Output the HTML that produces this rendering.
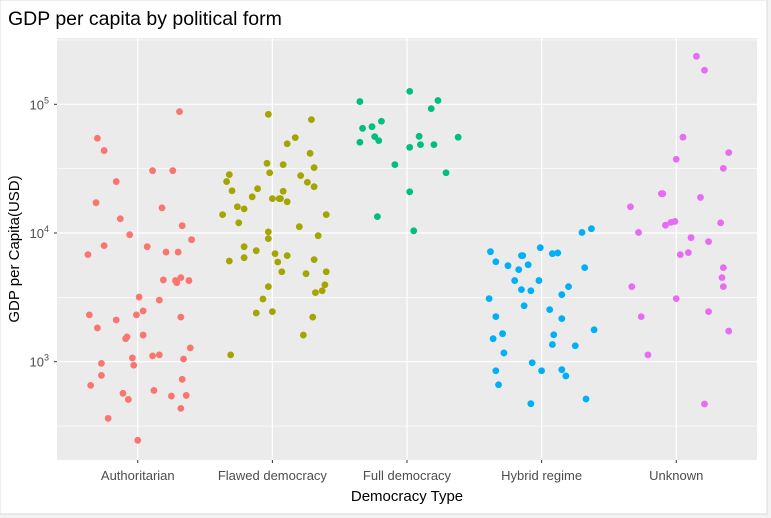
<!DOCTYPE html>
<html><head><meta charset="utf-8"><style>
body{margin:0;background:#fff;}
svg{display:block;font-family:"Liberation Sans",sans-serif;}
</style></head><body>
<svg id="chart" width="771" height="518" viewBox="0 0 771 518">
<rect x="0" y="0" width="771" height="518" fill="#f3f3f3"/>
<rect x="0" y="0" width="767" height="514" fill="#fff" stroke="#d9d9d9"/>
<text x="8" y="25" font-size="19.5" fill="#000">GDP per capita by political form</text>
<rect x="57" y="38" width="700" height="422" fill="#EBEBEB"/>
<g id="grid"></g>
<g id="axes"></g>
<g id="points"></g>
<text x="407" y="501" font-size="15" text-anchor="middle" fill="#000">Democracy Type</text>
<text transform="translate(19,249) rotate(-90)" font-size="15" text-anchor="middle" fill="#000">GDP per Capita(USD)</text>
</svg>
<script>
const categories = ["Authoritarian","Flawed democracy","Full democracy","Hybrid regime","Unknown"];
const yTickExponents = [3,4,5];
const authGdp = [87700,54500,43700,30500,30500,25100,17200,15700,12900,11400,9700,8870,7980,6790,7830,7110,7110,4320,4270,4500,4110,4270,3180,3010,2310,2480,2310,2110,2220,1830,1610,1510,1560,1280,1110,1130,1070,970,938,1050,783,730,655,568,509,598,541,547,434,363,245];
const authJitter = [0.31,-0.30,-0.25,0.11,0.26,-0.16,-0.31,0.18,-0.13,0.33,-0.06,0.40,-0.25,-0.37,0.07,0.21,0.30,0.19,0.28,0.32,0.29,0.38,0.01,0.16,-0.36,0.04,-0.01,-0.16,0.32,-0.30,0.04,-0.09,-0.08,0.39,0.11,0.16,-0.04,-0.27,-0.03,0.34,-0.27,0.33,-0.35,-0.11,-0.07,0.12,0.25,0.36,0.32,-0.22,0];
const flawedGdp = [83600,76000,55100,49400,41600,34800,34000,32200,29400,28400,27900,25100,24800,22900,22100,21300,21100,19100,18500,18500,18500,17500,16000,15400,13900,13900,12000,11200,10200,9530,9040,7830,7290,6910,6670,6060,6430,5950,6210,5000,4830,5000,3960,3830,3440,3560,3070,2390,2450,2220,1610,1130];
const flawedJitter = [-0.03,0.29,0.17,0.11,0.28,-0.04,0.08,0.31,-0.02,-0.32,0.21,-0.34,0.26,0.31,-0.11,-0.30,0.08,-0.15,0,0.05,0.06,0.11,-0.26,-0.21,-0.37,0.40,-0.25,0.20,-0.03,0.34,-0.03,-0.21,-0.12,0.02,0.11,-0.32,-0.21,0.04,0.31,0.07,0.25,0.40,0.39,-0.03,0.32,0.37,-0.07,-0.12,0,0.30,0.23,-0.31];
const fullGdp = [126000,105000,107000,92500,73800,65100,67000,56100,52200,50700,56400,48600,48600,46300,55500,34000,29400,20900,13400,10400];
const fullJitter = [0.02,-0.35,0.23,0.18,-0.19,-0.33,-0.26,-0.24,-0.21,-0.35,0.09,0.10,0.20,0.02,0.38,-0.09,0.29,0.02,-0.22,0.05];
const hybridGdp = [10800,10100,7690,7160,6670,6670,6910,7000,5980,5570,5670,5190,5380,4270,4270,3630,3560,3830,3320,3090,2720,2540,2240,2160,1770,1650,1620,1510,1360,1330,1170,982,851,867,851,775,662,513,472];
const hybridJitter = [0.37,0.30,-0.01,-0.38,-0.15,-0.14,0.08,0.12,-0.34,-0.25,-0.10,-0.17,0.32,-0.20,-0.02,-0.15,-0.08,0.20,0.15,-0.39,-0.13,0.06,-0.34,0.15,0.39,-0.29,0.09,-0.36,0.08,0.25,-0.28,-0.07,0,0.15,-0.34,0.18,-0.32,0.33,-0.08];
const unknownGdp = [236000,184000,55500,42100,37400,31800,20200,20200,18900,16000,12000,11500,12100,12300,10100,9200,8570,7040,6790,5380,4500,3830,3830,3090,2240,2450,1730,1130,469];
const unknownJitter = [0.15,0.21,0.05,0.39,0,0.35,-0.11,-0.10,0.18,-0.34,0.33,-0.08,-0.04,-0.01,-0.28,0.11,0.24,0.09,0.03,0.35,0.34,0.35,-0.33,0,-0.26,0.24,0.39,-0.21,0.21];
const seriesGdp = [authGdp, flawedGdp, fullGdp, hybridGdp, unknownGdp];
const seriesJitter = [authJitter, flawedJitter, fullJitter, hybridJitter, unknownJitter];
const colors = ["#F8766D","#A3A500","#00BF7D","#00B0F6","#E76BF3"];

const NS="http://www.w3.org/2000/svg";
const pL=57,pR=757,pT=38,pB=460;
const band=(pR-pL)/(categories.length+0.2);
function xScale(i){return pL+band*(0.6+i);}
const decade=128.7, y5=104.3;
function yScale(v){return y5+(5-Math.log10(v))*decade;}
function mk(tag,attrs,parent){const e=document.createElementNS(NS,tag);for(const k in attrs)e.setAttribute(k,attrs[k]);parent.appendChild(e);return e;}
const grid=document.getElementById('grid'),axes=document.getElementById('axes'),pts=document.getElementById('points');
// minor gridlines (half decades)
[2.5,3.5,4.5,5.5].forEach(e=>{const y=yScale(Math.pow(10,e));if(y>pT&&y<pB){
 const l=mk('line',{x1:pL,x2:pR,y1:y,y2:y,stroke:'#fff','stroke-width':0.6},grid);
 
 }});
yTickExponents.forEach(e=>{const y=yScale(Math.pow(10,e));
 const l=mk('line',{x1:pL,x2:pR,y1:y,y2:y,stroke:'#fff','stroke-width':1.2},grid);
 
 
 const t=mk('line',{x1:pL-3,x2:pL,y1:y,y2:y,stroke:'#333','stroke-width':1},axes);
 
 
 const tx=mk('text',{x:pL-8,y:y+5,'font-size':13,fill:'#4D4D4D','text-anchor':'end'},axes);
 
 
 tx.appendChild(document.createTextNode('10'));
 const sp=mk('tspan',{dy:-6,'font-size':9},tx);sp.textContent=String(e);
});
categories.forEach((c,i)=>{const x=xScale(i);
 const l=mk('line',{x1:x,x2:x,y1:pT,y2:pB,stroke:'#fff','stroke-width':1.2},grid);
 
 
 const t=mk('line',{x1:x,x2:x,y1:pB,y2:pB+3,stroke:'#333','stroke-width':1},axes);
 
 
 const tx=mk('text',{x:x,y:pB+20,'font-size':13,fill:'#4D4D4D','text-anchor':'middle'},axes);
 
 
 tx.textContent=c;
});
seriesGdp.forEach((arr,i)=>{arr.forEach((v,j)=>{
 const c=mk('circle',{cx:xScale(i+seriesJitter[i][j]),cy:yScale(v),r:3.4,fill:colors[i]},pts);
 
 
});});
</script>
</body></html>
